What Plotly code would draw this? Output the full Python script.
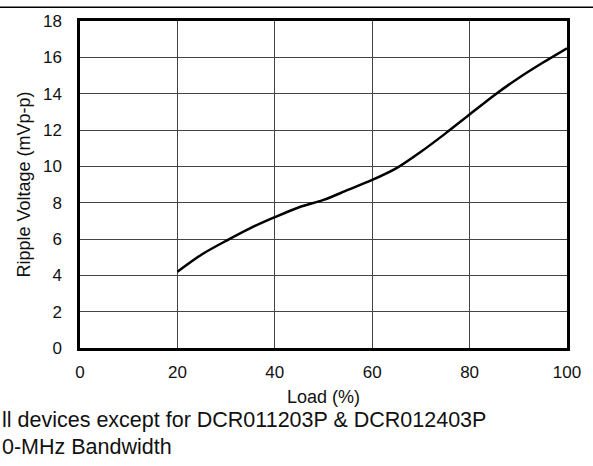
import plotly.graph_objects as go

load_pct = [20, 25, 30, 35, 40, 45, 50, 55, 60, 65, 70, 75, 80, 85, 90, 95, 100]
ripple_mv = [4.2, 5.15, 5.9, 6.6, 7.2, 7.75, 8.15, 8.7, 9.25, 9.9, 10.8, 11.8, 12.85, 13.9, 14.85, 15.7, 16.5]

x_ticks = [0, 20, 40, 60, 80, 100]
y_ticks = [0, 2, 4, 6, 8, 10, 12, 14, 16, 18]

note_lines = ["ll devices except for DCR011203P & DCR012403P", "0-MHz Bandwidth"]

W, H = 593, 466
L, R, T, B = 80, 26, 17, 118
pw, ph = W - L - R, H - T - B

def px_to_paper_x(px):
    return (px - L) / pw

def px_to_paper_y(py):
    return (H - B - py) / ph

font = "Liberation Sans, Arial, sans-serif"

fig = go.Figure()
fig.add_trace(go.Scatter(
    x=load_pct, y=ripple_mv, mode="lines",
    line=dict(color="black", width=2.5, shape="spline", smoothing=0.8),
    showlegend=False, hoverinfo="skip",
))

fig.update_layout(
    width=W, height=H,
    margin=dict(l=L, r=R, t=T, b=B, pad=0),
    paper_bgcolor="white", plot_bgcolor="white",
    font=dict(family=font, size=17, color="#111"),
    xaxis=dict(
        range=[0, 100], tickvals=x_ticks, ticktext=[str(v) for v in x_ticks],
        showgrid=True, gridcolor="#444", gridwidth=1,
        showline=True, linecolor="black", linewidth=2.5, mirror=True,
        ticks="", zeroline=False, ticklabelstandoff=7,
        title=dict(text="Load (%)", font=dict(size=18), standoff=10),
    ),
    yaxis=dict(
        range=[0, 18], tickvals=y_ticks, ticktext=[str(v) for v in y_ticks],
        showgrid=True, gridcolor="#444", gridwidth=1,
        showline=True, linecolor="black", linewidth=2.5, mirror=True,
        ticks="", zeroline=False, ticklabelstandoff=12,
        title=dict(text="Ripple Voltage (mVp-p)", font=dict(size=18), standoff=8),
    ),
    shapes=[dict(
        type="line", xref="paper", yref="paper",
        x0=px_to_paper_x(0), x1=px_to_paper_x(593),
        y0=px_to_paper_y(3), y1=px_to_paper_y(3),
        line=dict(color="black", width=1.5),
    )],
    annotations=[
        dict(text=note_lines[0], xref="paper", yref="paper",
             x=px_to_paper_x(0), y=px_to_paper_y(421), xanchor="left", yanchor="middle",
             showarrow=False, font=dict(size=21.5, family=font, color="#111")),
        dict(text=note_lines[1], xref="paper", yref="paper",
             x=px_to_paper_x(0), y=px_to_paper_y(448), xanchor="left", yanchor="middle",
             showarrow=False, font=dict(size=21.5, family=font, color="#111")),
    ],
)

fig.write_html("out.html", config={"displayModeBar": False},
               post_script="document.body.style.margin='0px';")
